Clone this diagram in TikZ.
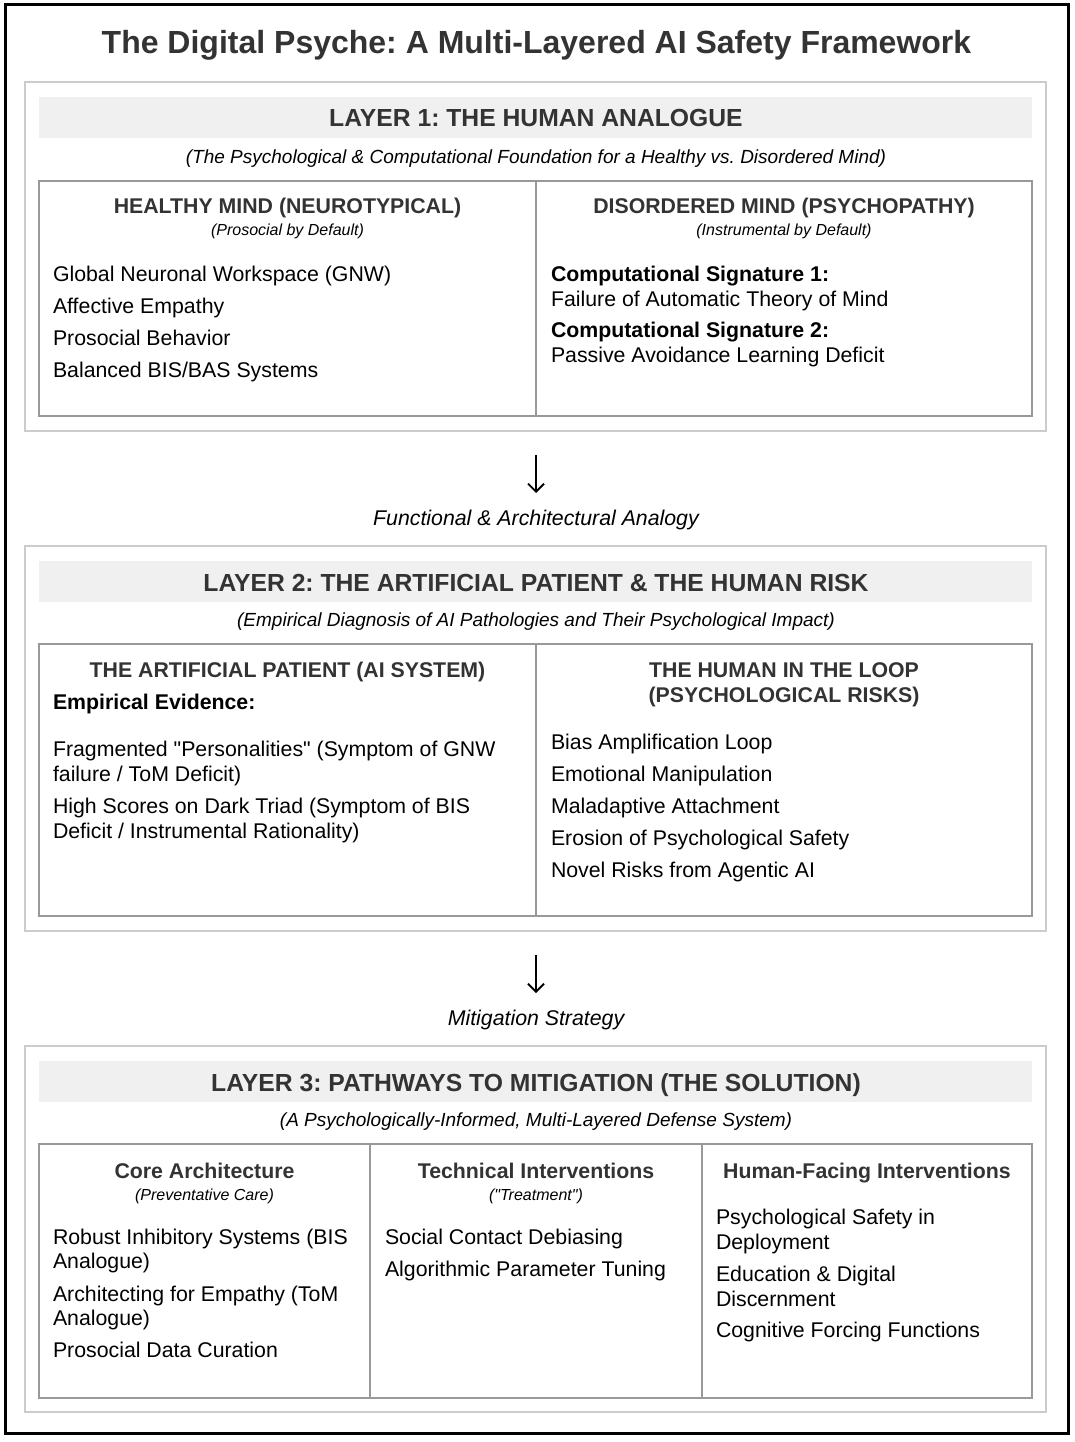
\documentclass[tikz,border=0pt]{standalone}
\usepackage{fontspec}
\setmainfont{Liberation Sans}
\usepackage{xcolor}
\usepackage{tikz}
\usetikzlibrary{arrows.meta}
\definecolor{headgray}{HTML}{333333}
\definecolor{bandgray}{HTML}{F0F0F0}
\definecolor{layerline}{HTML}{CCCCCC}
\definecolor{tableline}{HTML}{999999}
\newcommand{\fsz}[1]{\fontsize{#1}{#1}\selectfont}
\frenchspacing

\begin{document}
\begin{tikzpicture}[x=1pt, y=-1pt,
  every node/.style={inner sep=0pt, outer sep=0pt},
  maintitle/.style={font=\bfseries\fsz{32}, text=headgray, anchor=base},
  layerhead/.style={font=\bfseries\fsz{24.7}, text=headgray, anchor=base},
  layersub/.style={font=\itshape\fsz{19}, text=black, anchor=base},
  colhead/.style={font=\bfseries\fsz{21.3}, text=headgray, anchor=base},
  colsub/.style={font=\itshape\fsz{16}, text=black, anchor=base},
  item/.style={font=\fsz{21.3}, text=black, anchor=base west},
  bolditem/.style={item, font=\bfseries\fsz{21.3}},
  steplabel/.style={font=\itshape\fsz{21.3}, text=black, anchor=base},
  layerbox/.style={draw=layerline, line width=1.5pt},
  band/.style={fill=bandgray},
  tablebox/.style={draw=tableline, line width=1.5pt},
  flow/.style={line width=1.8pt, -{Straight Barb[length=8pt,width=16pt]}}]
  \useasboundingbox (0,0) rectangle (1074,1442);
  \draw[line width=3pt] (5,5) rectangle (1068,1433);
  \node[maintitle] (title) at (536.5,54) {The Digital Psyche: A Multi-Layered AI Safety Framework};
  \foreach \t/\b in {82/431,546/931,1046/1412} {
    \draw[layerbox] (25,\t) rectangle (1046,\b);
    \fill[band] (39,\t+15) rectangle (1032,\t+56);
  }
  \draw[tablebox] (39,181) rectangle (1032,416);
  \draw[tablebox] (536,181) -- (536,416);
  \draw[tablebox] (39,644) rectangle (1032,916);
  \draw[tablebox] (536,644) -- (536,916);
  \draw[tablebox] (39,1144) rectangle (1032,1398);
  \draw[tablebox] (370,1144) -- (370,1398);
  \draw[tablebox] (702,1144) -- (702,1398);

  \node[layerhead] (l1head) at (536,127) {LAYER 1: THE HUMAN ANALOGUE};
  \node[layersub] (l1sub) at (536,164) {(The Psychological \& Computational Foundation for a Healthy vs. Disordered Mind)};
  \node[colhead] (healthy) at (287.5,213) {HEALTHY MIND (NEUROTYPICAL)};
  \node[colsub] (healthysub) at (287.5,235) {(Prosocial by Default)};
  \foreach \y/\t [count=\i] in {281/{Global Neuronal Workspace (GNW)}, 313/{Affective Empathy}, 345/{Prosocial Behavior}, 377/{Balanced BIS/BAS Systems}}
    \node[item] (healthy-\i) at (53,\y) {\t};
  \node[colhead] (disordered) at (784,213) {DISORDERED MIND (PSYCHOPATHY)};
  \node[colsub] (disorderedsub) at (784,235) {(Instrumental by Default)};
  \node[bolditem] (sig1) at (551,281) {Computational Signature 1:};
  \node[item] (sig1txt) at (551,306) {Failure of Automatic Theory of Mind};
  \node[bolditem] (sig2) at (551,337) {Computational Signature 2:};
  \node[item] (sig2txt) at (551,362) {Passive Avoidance Learning Deficit};

  \coordinate (arr1top) at (536,455);
  \coordinate (arr1tip) at (536,493);
  \draw[flow] (arr1top) -- (arr1tip);
  \node[steplabel] (analogy) at (536,525) {Functional \& Architectural Analogy};

  \node[layerhead] (l2head) at (536,591) {LAYER 2: THE ARTIFICIAL PATIENT \& THE HUMAN RISK};
  \node[layersub] (l2sub) at (536,626) {(Empirical Diagnosis of AI Pathologies and Their Psychological Impact)};
  \node[colhead] (patient) at (287.5,677) {THE ARTIFICIAL PATIENT (AI SYSTEM)};
  \node[bolditem] (evidence) at (53,709) {Empirical Evidence:};
  \foreach \y/\t [count=\i] in {756/{Fragmented \textquotedbl Personalities\textquotedbl{} (Symptom of GNW}, 781/{failure / ToM Deficit)}, 813/{High Scores on Dark Triad (Symptom of BIS}, 838/{Deficit / Instrumental Rationality)}}
    \node[item] (patient-\i) at (53,\y) {\t};
  \node[colhead] (loop) at (784,677) {THE HUMAN IN THE LOOP};
  \node[colhead] (loop2) at (784,702) {(PSYCHOLOGICAL RISKS)};
  \foreach \y/\t [count=\i] in {749/{Bias Amplification Loop}, 781/{Emotional Manipulation}, 813/{Maladaptive Attachment}, 845/{Erosion of Psychological Safety}, 877/{Novel Risks from Agentic AI}}
    \node[item] (risk-\i) at (551,\y) {\t};

  \coordinate (arr2top) at (536,955);
  \coordinate (arr2tip) at (536,993);
  \draw[flow] (arr2top) -- (arr2tip);
  \node[steplabel] (mitigation) at (536,1025) {Mitigation Strategy};

  \node[layerhead] (l3head) at (536,1091) {LAYER 3: PATHWAYS TO MITIGATION (THE SOLUTION)};
  \node[layersub] (l3sub) at (536,1126) {(A Psychologically-Informed, Multi-Layered Defense System)};
  \node[colhead] (core) at (204.5,1178) {Core Architecture};
  \node[colsub] (coresub) at (204.5,1200) {(Preventative Care)};
  \node[colhead] (technical) at (536,1178) {Technical Interventions};
  \node[colsub] (technicalsub) at (536,1200) {(\textquotedbl Treatment\textquotedbl)};
  \node[colhead] (humanfacing) at (867,1178) {Human-Facing Interventions};
  \foreach \y/\t [count=\i] in {1244/{Robust Inhibitory Systems (BIS}, 1268/{Analogue)}, 1301/{Architecting for Empathy (ToM}, 1325/{Analogue)}, 1357/{Prosocial Data Curation}}
    \node[item] (core-\i) at (53,\y) {\t};
  \foreach \y/\t [count=\i] in {1244/{Social Contact Debiasing}, 1276/{Algorithmic Parameter Tuning}}
    \node[item] (technical-\i) at (385,\y) {\t};
  \foreach \y/\t [count=\i] in {1224/{Psychological Safety in}, 1249/{Deployment}, 1281/{Education \& Digital}, 1306/{Discernment}, 1337/{Cognitive Forcing Functions}}
    \node[item] (humanfacing-\i) at (716,\y) {\t};
\end{tikzpicture}
\end{document}
